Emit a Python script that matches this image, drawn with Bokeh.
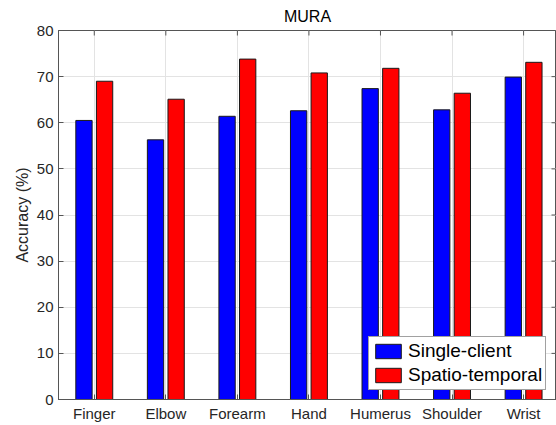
import math
from bokeh.plotting import figure
from bokeh.models import (ColumnDataSource, Range1d, FixedTicker, Legend, LegendItem)
from bokeh.embed import file_html
from bokeh.resources import INLINE

categories = ["Finger", "Elbow", "Forearm", "Hand", "Humerus", "Shoulder", "Wrist"]
single_client = [60.5, 56.3, 61.4, 62.6, 67.4, 62.8, 69.9]
spatio_temporal = [69.0, 65.1, 73.8, 70.8, 71.8, 66.4, 73.1]
y_ticks = [0, 10, 20, 30, 40, 50, 60, 70, 80]

FONT = "Liberation Sans"
TXT = "#262626"
xpos = list(range(1, len(categories) + 1))
off = 0.144
bw = 0.228
x_lo, x_hi = 0.5, 7.46
y_lo, y_hi = 0, 80

src = ColumnDataSource(dict(
    x1=[x - off for x in xpos], x2=[x + off for x in xpos],
    s=single_client, t=spatio_temporal))

p = figure(width=556, height=425, output_backend="svg", toolbar_location=None,
           x_range=Range1d(x_lo, x_hi), y_range=Range1d(y_lo, y_hi),
           min_border_left=58, min_border_right=0, min_border_bottom=26,
           min_border_top=29, title="MURA")
p.background_fill_color = "white"
p.border_fill_color = "white"
p.outline_line_color = "#555555"
p.outline_line_width = 1

p.title.align = "center"
p.title.text_font = FONT
p.title.text_font_size = "16px"
p.title.text_font_style = "normal"
p.title.text_color = "#000000"
p.title.standoff = 11
p.title.offset = 0

p.xgrid.ticker = FixedTicker(ticks=xpos)
p.ygrid.ticker = FixedTicker(ticks=y_ticks)
p.grid.grid_line_color = "#e3e3e3"
p.grid.grid_line_width = 1

r1 = p.vbar(x="x1", top="s", width=bw, source=src, fill_color="#0000FF",
            line_color="#1a1a1a", line_width=1)
r2 = p.vbar(x="x2", top="t", width=bw, source=src, fill_color="#FF0000",
            line_color="#1a1a1a", line_width=1)

# inward ticks on the top and right edges of the box (clipped to the frame)
p.scatter(x=xpos, y=[y_hi] * len(xpos), marker="dash", size=10,
          angle=math.pi / 2, line_color="#555555", line_width=1)
p.scatter(x=[x_hi] * len(y_ticks), y=y_ticks, marker="dash", size=10,
          line_color="#555555", line_width=1)

for ax in (p.xaxis[0], p.yaxis[0]):
    ax.major_tick_in = 5
    ax.major_tick_out = 0
    ax.minor_tick_in = 0
    ax.minor_tick_out = 0
    ax.axis_line_color = "#555555"
    ax.major_tick_line_color = "#555555"
    ax.major_label_text_font = FONT
    ax.major_label_text_font_size = "15px"
    ax.major_label_text_color = TXT
    ax.major_label_standoff = 5

p.xaxis.ticker = FixedTicker(ticks=xpos)
p.xaxis.major_label_overrides = {x: c for x, c in zip(xpos, categories)}
p.yaxis.ticker = FixedTicker(ticks=y_ticks)
p.yaxis.axis_label = "Accuracy (%)"
p.yaxis.axis_label_text_font = FONT
p.yaxis.axis_label_text_font_size = "16px"
p.yaxis.axis_label_text_font_style = "normal"
p.yaxis.axis_label_text_color = TXT
p.yaxis.axis_label_standoff = 3

legend = Legend(items=[LegendItem(label="Single-client", renderers=[r1]),
                       LegendItem(label="Spatio-temporal", renderers=[r2])],
                location=(310, 9))
legend.glyph_width = 32
legend.glyph_height = 18
legend.label_text_font = FONT
legend.label_text_font_size = "19px"
legend.label_text_color = "#000000"
legend.label_standoff = 4
legend.padding = 3
legend.spacing = 2
legend.margin = 0
legend.border_line_color = "#444444"
legend.background_fill_alpha = 1
p.add_layout(legend)

open("out.html", "w").write(file_html(p, INLINE))
